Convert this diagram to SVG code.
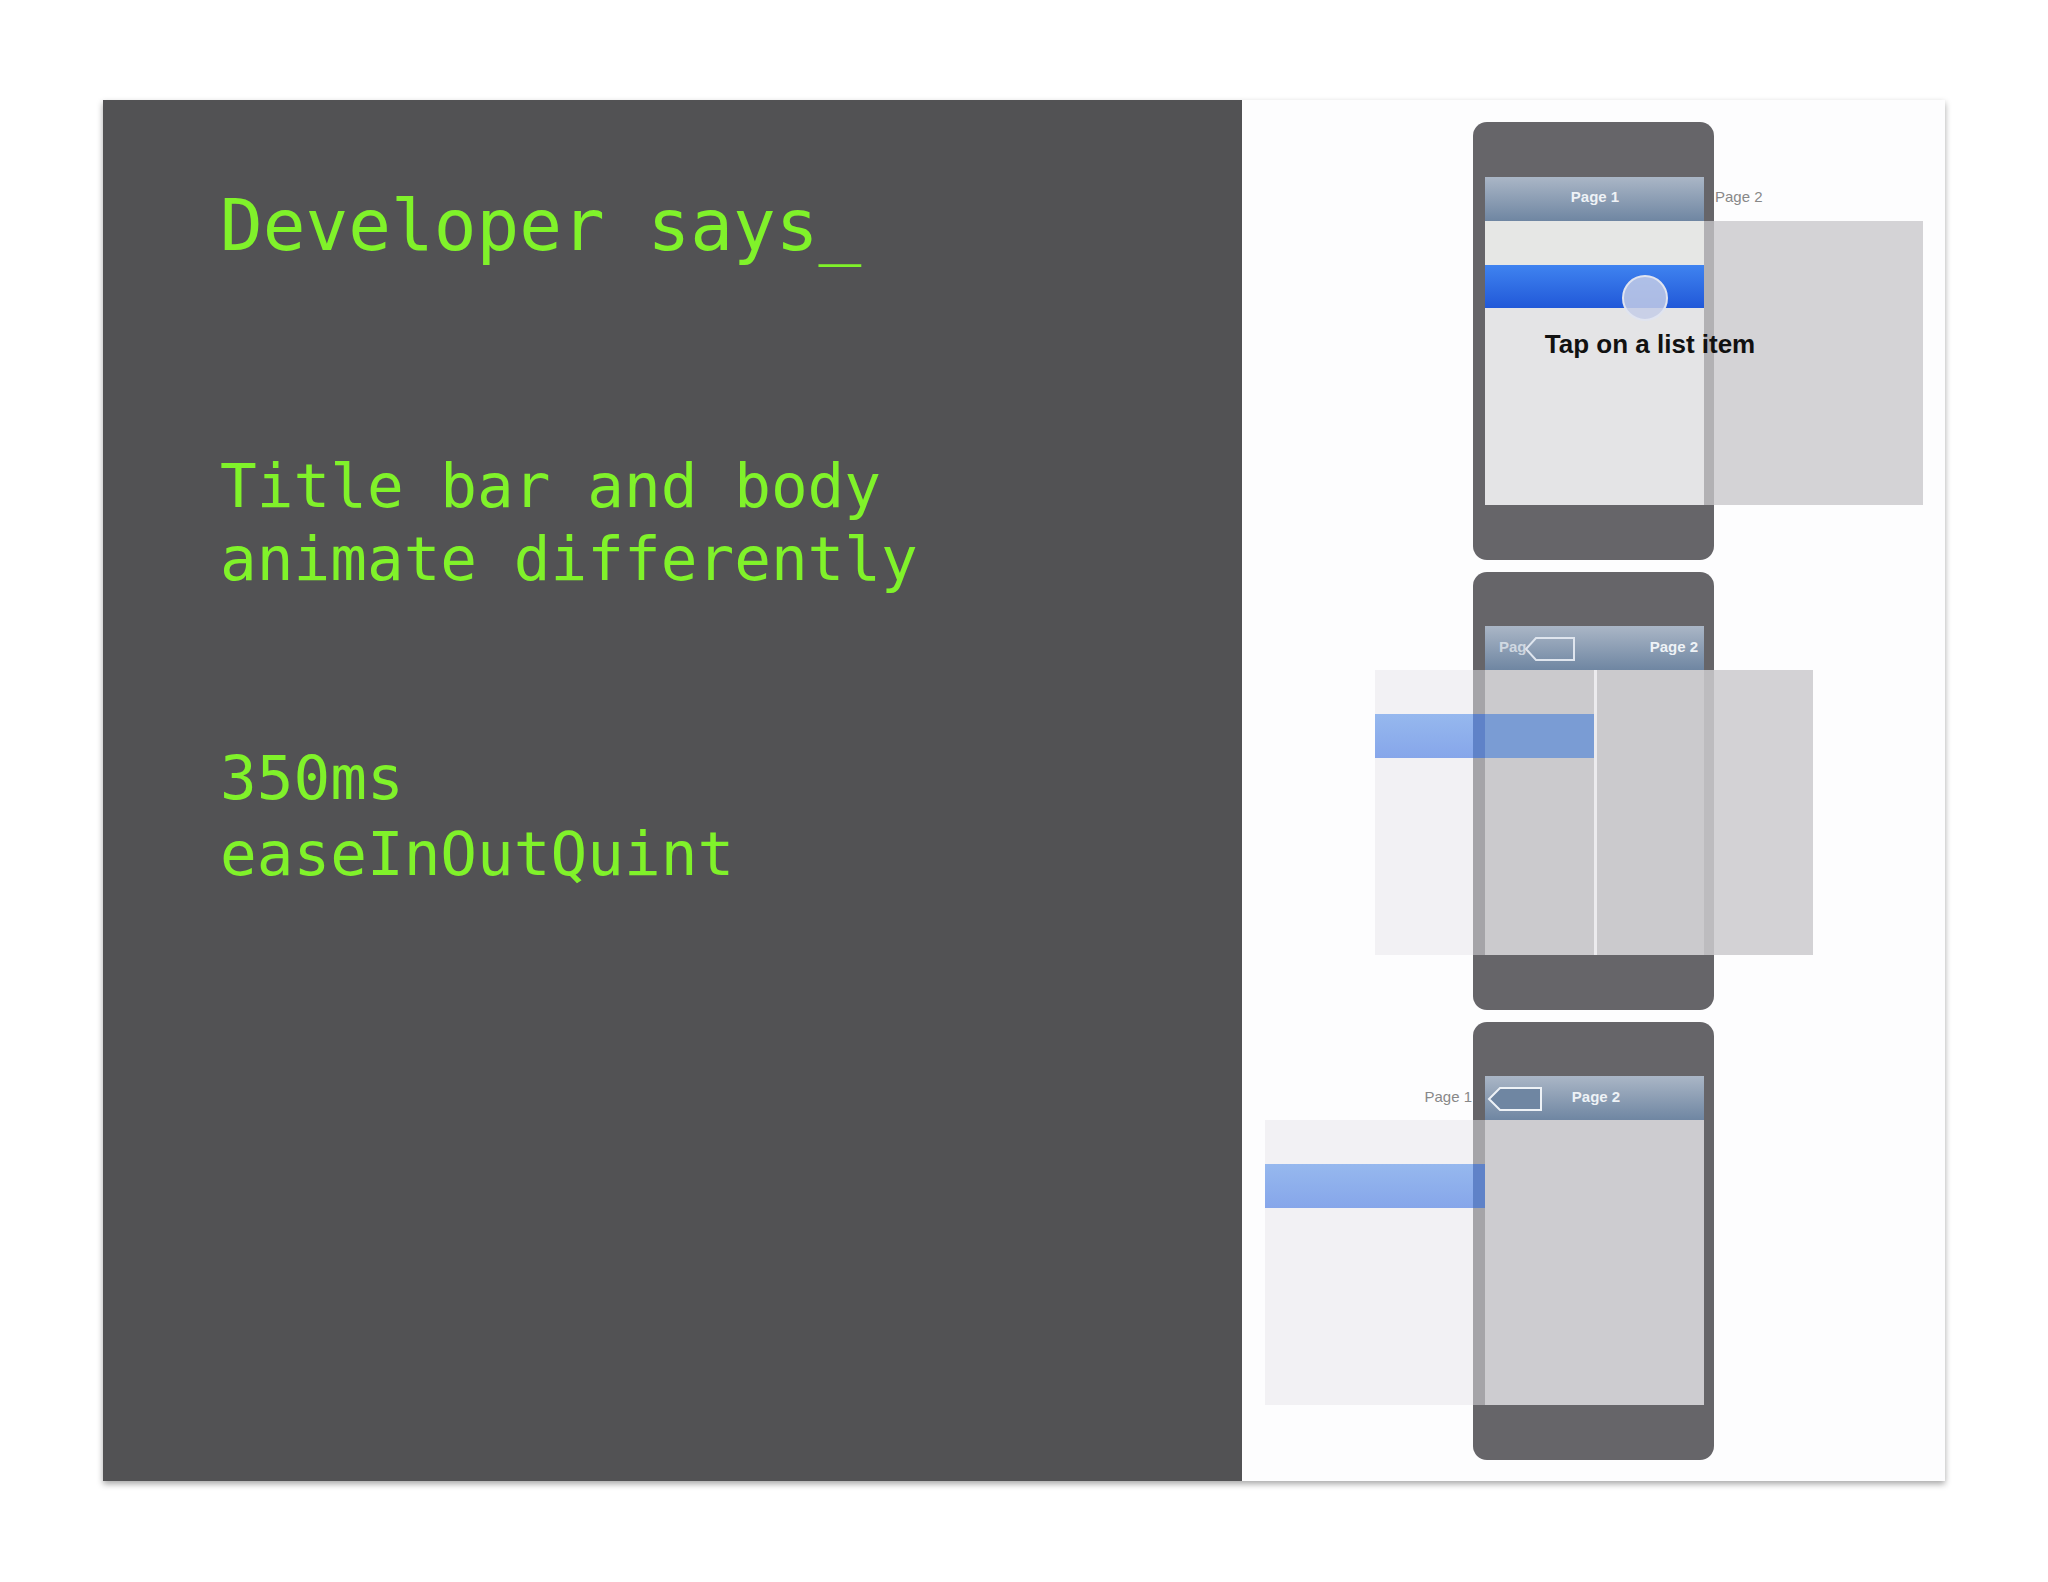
<svg xmlns="http://www.w3.org/2000/svg" width="2048" height="1582" viewBox="0 0 2048 1582">
<defs>
<linearGradient id="tb" x1="0" y1="0" x2="0" y2="1"><stop offset="0" stop-color="#aab6c6"/><stop offset="1" stop-color="#6f86a2"/></linearGradient>
<linearGradient id="blue" x1="0" y1="0" x2="0" y2="1"><stop offset="0" stop-color="#3f83f0"/><stop offset="1" stop-color="#2158d8"/></linearGradient>
<linearGradient id="lblue" x1="0" y1="0" x2="0" y2="1"><stop offset="0" stop-color="#96b8ee"/><stop offset="1" stop-color="#86a6ea"/></linearGradient>
<filter id="sh" x="-5%" y="-5%" width="110%" height="110%"><feDropShadow dx="0" dy="3" stdDeviation="3" flood-color="#000" flood-opacity="0.35"/></filter>
</defs>
<style>
.mono{font-family:"DejaVu Sans Mono","Liberation Mono",monospace;font-size:61px;fill:#80f22a}
.big{font-size:71px}
.lbl{font-family:"Liberation Sans",Arial,sans-serif;font-size:15px;font-weight:bold;fill:#eef2f6}
.glbl{font-family:"Liberation Sans",Arial,sans-serif;font-size:15px;fill:#888}
.phone{fill:#666569}
</style>
<rect width="2048" height="1582" fill="#ffffff"/>
<rect x="103" y="100" width="1842" height="1381" fill="#fdfdfe" filter="url(#sh)"/>
<rect x="103" y="100" width="1139" height="1381" fill="#525254"/>
<g id="text">
<text class="mono big" x="220" y="250">Developer says_</text>
<text class="mono" x="220" y="507">Title bar and body</text>
<text class="mono" x="220" y="580">animate differently</text>
<text class="mono" x="220" y="799">350ms</text>
<text class="mono" x="220" y="875">easeInOutQuint</text>
</g>
<g id="phone1">
<rect class="phone" x="1473" y="122" width="241" height="438" rx="14"/>
<rect x="1485" y="177" width="219" height="44" fill="url(#tb)"/>
<text class="lbl" x="1595" y="202" text-anchor="middle">Page 1</text>
<text class="glbl" x="1715" y="202">Page 2</text>
<rect x="1485" y="221" width="219" height="284" fill="#e4e4e6"/>
<rect x="1485" y="221" width="219" height="44" fill="#e6e7e5"/>
<rect x="1485" y="265" width="219" height="43" fill="url(#blue)"/>
<circle cx="1645" cy="298" r="22" fill="#c4cce6" fill-opacity="0.85" stroke="#e0e4f0" stroke-width="2"/>
<rect x="1704" y="221" width="219" height="284" fill="#d4d3d6"/>
<rect x="1704" y="221" width="10" height="284" fill="#b2b1b4"/>
<text x="1650" y="353" text-anchor="middle" font-family="Liberation Sans,Arial,sans-serif" font-weight="bold" font-size="26" fill="#111">Tap on a list item</text>
</g>
<g id="phone2">
<rect class="phone" x="1473" y="572" width="241" height="438" rx="14"/>
<rect x="1485" y="626" width="219" height="44" fill="url(#tb)"/>
<text class="lbl" x="1499" y="652" fill-opacity="0.7">Pag</text>
<path d="M1536 638 H1574 V660 H1536 L1526 649 Z" fill="none" stroke="#dfe5ee" stroke-width="2"/>
<text class="lbl" x="1698" y="652" text-anchor="end">Page 2</text>
<rect x="1375" y="670" width="219" height="285" fill="#f2f1f4"/>
<rect x="1375" y="714" width="219" height="44" fill="url(#lblue)"/>
<rect x="1473" y="670" width="12" height="285" fill="#a5a4a8"/>
<rect x="1485" y="670" width="109" height="285" fill="#cbcacd"/>
<rect x="1485" y="714" width="109" height="44" fill="#7a9cd4"/>
<rect x="1473" y="714" width="12" height="44" fill="#5f82c8"/>
<rect x="1597" y="670" width="216" height="285" fill="#d3d2d5"/>
<rect x="1597" y="670" width="107" height="285" fill="#cbcacd"/>
<rect x="1704" y="670" width="10" height="285" fill="#bdbcbf"/>
<rect x="1594" y="670" width="3" height="285" fill="#ecebee"/>
</g>
<g id="phone3">
<rect class="phone" x="1473" y="1022" width="241" height="438" rx="14"/>
<rect x="1485" y="1076" width="219" height="44" fill="url(#tb)"/>
<text class="glbl" x="1472" y="1102" text-anchor="end">Page 1</text>
<path d="M1500 1088 H1541 V1110 H1500 L1489 1099 Z" fill="#6f86a2" stroke="#eef2f6" stroke-width="2"/>
<text class="lbl" x="1596" y="1102" text-anchor="middle">Page 2</text>
<rect x="1265" y="1120" width="208" height="285" fill="#f2f1f4"/>
<rect x="1265" y="1164" width="208" height="44" fill="url(#lblue)"/>
<rect x="1473" y="1120" width="12" height="285" fill="#a5a4a8"/>
<rect x="1473" y="1164" width="12" height="44" fill="#5f82c8"/>
<rect x="1485" y="1120" width="219" height="285" fill="#cdccd0"/>
</g>
<g id="connectors"/>
</svg>
